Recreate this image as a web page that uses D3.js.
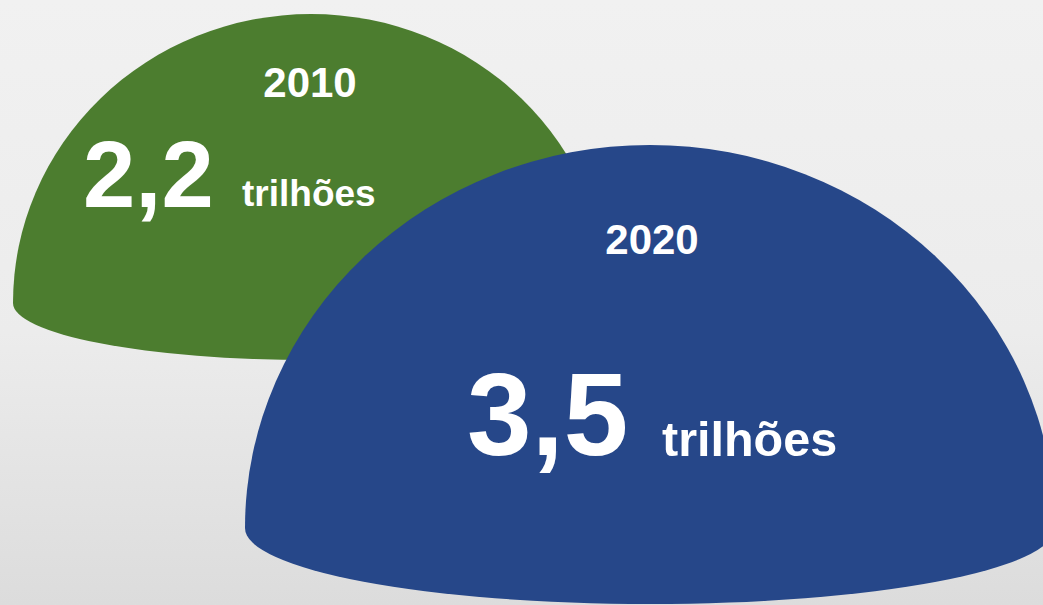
<!DOCTYPE html>
<html>
<head>
<meta charset="utf-8">
<script src="https://cdn.jsdelivr.net/npm/d3@7"></script>
<style>
  html, body { margin: 0; padding: 0; overflow: hidden; background: #eeeeee; }
  svg { display: block; }
  text { font-family: "Liberation Sans", Arial, sans-serif; font-weight: bold; fill: #ffffff; }
</style>
</head>
<body>
<svg id="chart" width="1043" height="605"></svg>
<script>
// ---- data ----
const years = ["2010", "2020"];
const values = [2.2, 3.5];
const unitLabel = "trilhões";

// ---- styles / layout (not data) ----
const colors = ["#4c7d2f", "#264789"];
const domeLayout = [
  { cx: 311, cy: 303, rx: 298, ryTop: 289, ryBottom: 57,
    yearX: 310, yearY: 97, yearSize: 42,
    numX: 83, numY: 207, numSize: 94,
    unitX: 242, unitY: 206, unitSize: 37 },
  { cx: 650, cy: 528, rx: 405, ryTop: 383, ryBottom: 76,
    yearX: 652, yearY: 254, yearSize: 42,
    numX: 467, numY: 455, numSize: 116,
    unitX: 662, unitY: 456, unitSize: 48.5 }
];

const W = 1043, H = 605;
const svg = d3.select("#chart");

const defs = svg.append("defs");
const grad = defs.append("linearGradient").attr("id", "bg")
  .attr("x1", 0).attr("y1", 0).attr("x2", 0).attr("y2", 1);
grad.append("stop").attr("offset", "0").attr("stop-color", "#f1f1f1");
grad.append("stop").attr("offset", "0.55").attr("stop-color", "#ececec");
grad.append("stop").attr("offset", "1").attr("stop-color", "#dcdcdc");
svg.append("rect").attr("width", W).attr("height", H).attr("fill", "url(#bg)");

const color = d3.scaleOrdinal().domain(years).range(colors);
const locale = d3.formatLocale({ decimal: ",", thousands: ".", grouping: [3], currency: ["R$", ""] });
const fmt = locale.format(".1f");

function domePath(L) {
  const p = d3.path();
  p.moveTo(L.cx - L.rx, L.cy);
  let s = p.toString();
  s += ` A ${L.rx} ${L.ryTop} 0 0 1 ${L.cx + L.rx} ${L.cy}`;
  s += ` A ${L.rx} ${L.ryBottom} 0 0 1 ${L.cx - L.rx} ${L.cy} Z`;
  return s;
}

const data = years.map((y, i) => ({ year: y, value: values[i], L: domeLayout[i] }));

data.forEach(d => {
  const g = svg.append("g").attr("class", "dome");
  g.append("path").attr("d", domePath(d.L)).attr("fill", color(d.year));
  g.append("text")
    .attr("x", d.L.yearX).attr("y", d.L.yearY)
    .attr("text-anchor", "middle")
    .style("font-size", d.L.yearSize + "px")
    .text(d.year);
  g.append("text")
    .attr("x", d.L.numX).attr("y", d.L.numY)
    .style("font-size", d.L.numSize + "px")
    .text(fmt(d.value));
  g.append("text")
    .attr("x", d.L.unitX).attr("y", d.L.unitY)
    .style("font-size", d.L.unitSize + "px")
    .text(unitLabel);
});
</script>
</body>
</html>
